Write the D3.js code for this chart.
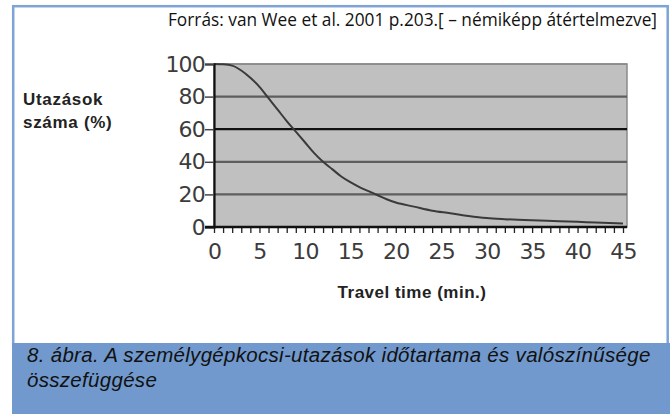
<!DOCTYPE html>
<html>
<head>
<meta charset="utf-8">
<script src="https://cdn.jsdelivr.net/npm/d3@7"></script>
<style>
  html, body { margin: 0; padding: 0; background: #fff; }
  svg { display: block; }
</style>
</head>
<body>
<div id="chart"></div>
<script>
// travel time (min) and share of trips still made (%)
const minutes = [0, 1, 2, 3, 4, 5, 6, 7, 8, 9, 10, 11, 12, 13, 14, 15, 16, 17, 18, 19, 20, 22, 24, 26, 28, 30, 32, 35, 38, 40, 42, 45];
const share = [100, 99.8, 99, 96, 91.5, 86, 79, 72, 65, 58.5, 52, 45.5, 40, 35.5, 31, 27.5, 24.5, 22, 19.5, 17, 15, 12.5, 10, 8.5, 6.8, 5.5, 4.8, 4.1, 3.6, 3.2, 2.7, 2.2];
const xTicks = [0, 5, 10, 15, 20, 25, 30, 35, 40, 45];
const yTicks = [0, 20, 40, 60, 80, 100];

const sourceText = 'Forrás: van Wee et al. 2001 p.203.[ – némiképp átértelmezve]';
const yTitle = ['Utazások', 'száma (%)'];
const xTitle = 'Travel time (min.)';
const caption = ['8. ábra. A személygépkocsi-utazások időtartama és valószínűsége', 'összefüggése'];

const width = 670;
const height = 414;
const plot = { left: 214, right: 623, top: 64, bottom: 227 };

const svg = d3.select('#chart')
    .append('svg')
    .attr('width', width)
    .attr('height', height);

// frame + caption band
svg.append('rect')
    .attr('x', 13.2).attr('y', 6.2)
    .attr('width', 654.5).attr('height', 340)
    .attr('fill', '#fff')
    .attr('stroke', '#7ea3d6')
    .attr('stroke-width', 2.5);

svg.append('rect')
    .attr('x', 12).attr('y', 343)
    .attr('width', width - 12).attr('height', height - 343)
    .attr('fill', '#7199cd');

svg.append('g')
    .selectAll('text')
    .data(caption)
    .join('text')
      .attr('x', 27)
      .attr('y', (d, i) => 362 + i * 25)
      .attr('font-family', '"Liberation Sans", Arial, sans-serif')
      .attr('font-style', 'italic')
      .attr('font-size', 20.5)
      .attr('letter-spacing', 0.3)
      .attr('fill', '#111')
      .text(d => d);

svg.append('text')
    .attr('x', 657)
    .attr('y', 26)
    .attr('text-anchor', 'end')
    .attr('font-family', '"Open Sans", "Noto Sans", sans-serif')
    .attr('font-size', 17.3)
    .attr('fill', '#111')
    .text(sourceText);

const xScale = d3.scaleLinear()
    .domain([0, 45])
    .range([plot.left, plot.right]);

const yScale = d3.scaleLinear()
    .domain([0, 100])
    .range([plot.bottom, plot.top]);

// plot background
svg.append('rect')
    .attr('x', plot.left)
    .attr('y', plot.top)
    .attr('width', xScale(45) + 4 - plot.left)
    .attr('height', plot.bottom - plot.top)
    .attr('fill', '#c0c0c0')
    .attr('stroke', '#8a8a8a')
    .attr('stroke-width', 1.5);

// horizontal grid lines
const gridColor = d => d === 60 ? '#111' : (d === 100 ? '#8a8a8a' : '#5e5e5e');
svg.append('g')
    .selectAll('line')
    .data(yTicks.filter(d => d > 0))
    .join('line')
      .attr('x1', plot.left)
      .attr('x2', xScale(45) + 4)
      .attr('y1', d => yScale(d))
      .attr('y2', d => yScale(d))
      .attr('stroke', gridColor)
      .attr('stroke-width', d => d === 100 ? 1.5 : 2.2);

// curve
const line = d3.line()
    .x(d => xScale(d[0]))
    .y(d => yScale(d[1]))
    .curve(d3.curveMonotoneX);

svg.append('path')
    .datum(minutes.map((m, i) => [m, share[i]]))
    .attr('d', line)
    .attr('fill', 'none')
    .attr('stroke', '#3a3a3a')
    .attr('stroke-width', 2);

// axes
const tickFont = '"DejaVu Sans", sans-serif';

const yAxis = d3.axisLeft(yScale)
    .tickValues(yTicks)
    .tickSize(9)
    .tickPadding(0);

const yAxisG = svg.append('g')
    .attr('transform', `translate(${plot.left},0)`)
    .call(yAxis);
yAxisG.select('.domain').attr('stroke', '#111').attr('stroke-width', 2.2);
yAxisG.selectAll('.tick line').attr('stroke', '#444').attr('stroke-width', 1.5);
yAxisG.selectAll('.tick text')
    .attr('font-family', tickFont)
    .attr('font-size', 22)
    .attr('letter-spacing', -0.8)
    .attr('fill', '#3c3c3c');

const xAxis = d3.axisBottom(xScale)
    .ticks(45)
    .tickSize(6)
    .tickFormat(d => xTicks.includes(d) ? d : '')
    .tickPadding(10);

const xAxisG = svg.append('g')
    .attr('transform', `translate(0,${plot.bottom})`)
    .call(xAxis);
xAxisG.select('.domain').remove();
xAxisG.append('line')
    .attr('x1', plot.left - 9)
    .attr('x2', xScale(45) + 4)
    .attr('stroke', '#111')
    .attr('stroke-width', 2.5);
xAxisG.selectAll('.tick line').attr('stroke', '#222').attr('stroke-width', 1.3);
xAxisG.selectAll('.tick text')
    .attr('font-family', tickFont)
    .attr('font-size', 22)
    .attr('letter-spacing', -0.8)
    .attr('fill', '#3c3c3c');

// axis titles
svg.append('g')
    .selectAll('text')
    .data(yTitle)
    .join('text')
      .attr('x', 23)
      .attr('y', (d, i) => 105 + i * 23)
      .attr('font-family', '"Liberation Sans", Arial, sans-serif')
      .attr('font-weight', 'bold')
      .attr('font-size', 17)
      .attr('letter-spacing', 0.7)
      .attr('fill', '#222')
      .text(d => d);

svg.append('text')
    .attr('x', 412)
    .attr('y', 298)
    .attr('text-anchor', 'middle')
    .attr('font-family', '"Liberation Sans", Arial, sans-serif')
    .attr('font-weight', 'bold')
    .attr('font-size', 17)
    .attr('letter-spacing', 0.5)
    .attr('fill', '#222')
    .text(xTitle);
</script>
</body>
</html>
